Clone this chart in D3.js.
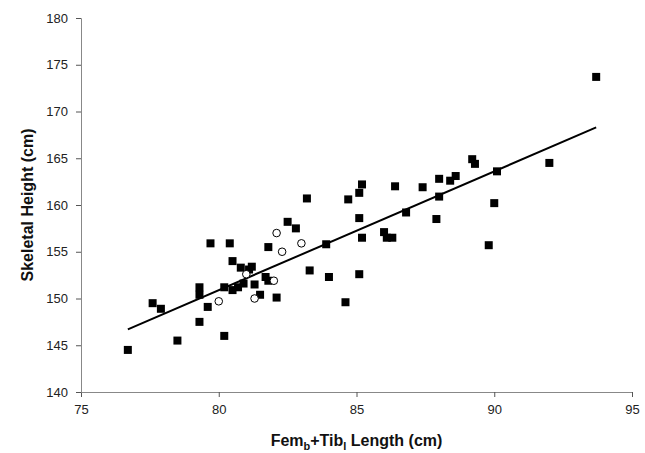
<!DOCTYPE html>
<html>
<head>
<meta charset="utf-8">
<script src="https://cdn.jsdelivr.net/npm/d3@7"></script>
<style>
  body { margin: 0; background: #fff; }
  svg text { font-family: "Liberation Sans", Arial, sans-serif; }
</style>
</head>
<body>
<div id="chart"></div>
<script>
// filled squares: [length, height]
var filledPoints = [
  [76.7,144.5],[77.6,149.5],[77.9,148.9],[78.5,145.5],[79.3,151.2],[79.3,150.4],
  [79.3,147.5],[79.6,149.1],[79.7,155.9],[80.2,146.0],[80.2,151.2],[80.4,155.9],
  [80.5,154.0],[80.5,150.9],[80.7,151.2],[80.8,153.3],[80.9,151.6],[81.1,153.1],
  [81.2,153.4],[81.3,151.5],[81.5,150.4],[81.8,155.5],[81.7,152.3],[81.8,151.9],
  [82.1,150.1],[82.5,158.2],[82.8,157.5],[83.2,160.7],[83.3,153.0],[83.9,155.8],
  [84.0,152.3],[84.6,149.6],[84.7,160.6],[85.1,161.3],[85.2,162.2],[85.1,158.6],
  [85.1,152.6],[85.2,156.5],[86.0,157.1],[86.1,156.5],[86.3,156.5],[86.4,162.0],
  [86.8,159.2],[87.4,161.9],[87.9,158.5],[88.0,160.9],[88.0,162.8],[88.4,162.6],
  [88.6,163.1],[89.2,164.9],[89.3,164.4],[89.8,155.7],[90.1,163.6],[90.0,160.2],
  [92.0,164.5],[93.7,173.7]
];

// open circles
var openPoints = [
  [80.0,149.7],[81.0,152.6],[81.3,150.0],[82.0,151.9],[82.1,157.0],[82.3,155.0],[83.0,155.9]
];

// regression line ends
var fitLine = [[76.7,146.7],[93.7,168.3]];

var xTicks = [75, 80, 85, 90, 95];
var yTicks = [140, 145, 150, 155, 160, 165, 170, 175, 180];

var W = 645, H = 453;
var margin = {left: 81, top: 18, right: 13, bottom: 61};
var width = W - margin.left - margin.right;
var height = H - margin.top - margin.bottom;

var svg = d3.select("#chart").append("svg")
    .attr("width", W)
    .attr("height", H);

var g = svg.append("g")
    .attr("transform", "translate(" + margin.left + "," + margin.top + ")");

var x = d3.scaleLinear().domain([75, 95]).range([0, width]);
var y = d3.scaleLinear().domain([140, 180]).range([height, 0]);

// axes
var xAxis = g.append("g")
    .attr("transform", "translate(0," + height + ")")
    .call(d3.axisBottom(x).tickValues(xTicks).tickSize(5).tickPadding(8));

var yAxis = g.append("g")
    .call(d3.axisLeft(y).tickValues(yTicks).tickSize(5).tickPadding(8));

[xAxis, yAxis].forEach(function(a) {
    a.select(".domain").attr("stroke", "#888").attr("stroke-width", 1);
    a.selectAll(".tick line").attr("stroke", "#555");
    a.selectAll(".tick text")
        .attr("fill", "#222")
        .style("font-size", "13px");
});

// fit line
g.append("line")
    .attr("x1", x(fitLine[0][0]))
    .attr("y1", y(fitLine[0][1]))
    .attr("x2", x(fitLine[1][0]))
    .attr("y2", y(fitLine[1][1]))
    .attr("stroke", "#000")
    .attr("stroke-width", 2);

// squares
var sq = 8;
g.selectAll("rect.filled")
    .data(filledPoints)
    .enter().append("rect")
    .attr("class", "filled")
    .attr("x", function(d) { return x(d[0]) - sq / 2; })
    .attr("y", function(d) { return y(d[1]) - sq / 2; })
    .attr("width", sq)
    .attr("height", sq)
    .attr("fill", "#000");

// circles
g.selectAll("circle.open")
    .data(openPoints)
    .enter().append("circle")
    .attr("class", "open")
    .attr("cx", function(d) { return x(d[0]); })
    .attr("cy", function(d) { return y(d[1]); })
    .attr("r", 3.8)
    .attr("fill", "#fff")
    .attr("stroke", "#000")
    .attr("stroke-width", 1);

// axis titles
svg.append("text")
    .attr("transform", "translate(33," + (margin.top + height / 2) + ") rotate(-90)")
    .attr("text-anchor", "middle")
    .style("font-size", "16px")
    .style("font-weight", "bold")
    .attr("fill", "#111")
    .text("Skeletal Height (cm)");

var xt = svg.append("text")
    .attr("x", margin.left + width / 2)
    .attr("y", 446)
    .attr("text-anchor", "middle")
    .style("font-size", "16px")
    .style("font-weight", "bold")
    .attr("fill", "#111");
xt.append("tspan").text("Fem");
xt.append("tspan").attr("dy", 4).style("font-size", "11px").text("b");
xt.append("tspan").attr("dy", -4).text("+Tib");
xt.append("tspan").attr("dy", 4).style("font-size", "11px").text("l");
xt.append("tspan").attr("dy", -4).text(" Length (cm)");
</script>
</body>
</html>
